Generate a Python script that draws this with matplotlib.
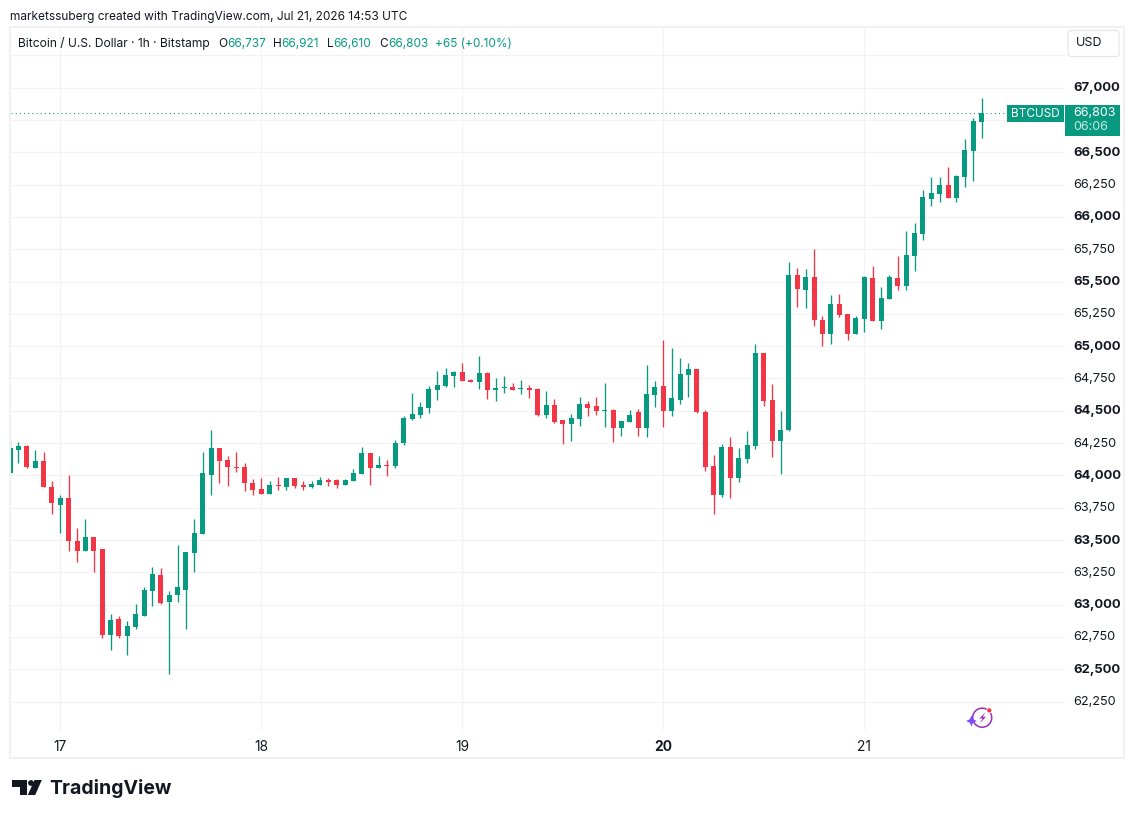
import matplotlib
matplotlib.use("Agg")
import matplotlib.pyplot as plt
from matplotlib.patches import Rectangle, FancyBboxPatch, Polygon, Circle, Arc
from matplotlib.transforms import ScaledTranslation

plt.rcParams['font.family'] = ['Inter', 'DejaVu Sans']

# Hour offsets relative to Jul 17 00:00 UTC
hours = list(range(-6, 111))

opens = [64015,64193,64224,64061,64108,63907,63775,63829,63496,63419,63520,63427,62769,62893,62761,62831,62916,63109,63233,63024,63071,63117,63396,63543,
         64000,64216,64116,64069,64069,63945,63892,63860,63923,63907,63977,63923,63907,63923,63961,63961,63923,63954,64008,64171,64055,64078,64070,64249,
         64435,64466,64521,64661,64692,64770,64801,64738,64723,64793,64661,64676,64684,64668,64676,64668,64466,64544,64428,64397,64435,64552,64536,64498,
         64505,64365,64412,64490,64365,64622,64692,64498,64583,64777,64824,64494,64074,63849,64222,63981,64129,64230,64945,64587,64269,64354,65551,65434,
         65535,65201,65092,65325,65248,65092,65209,65527,65193,65364,65524,65469,65695,65865,66137,66176,66246,66145,66308,66510,66737]
closes = [64216,64224,64069,64108,63907,63783,63829,63489,63419,63520,63419,62769,62885,62761,62838,62924,63117,63241,63016,63078,63133,63404,63551,64015,
          64216,64108,64069,64061,63938,63884,63853,63923,63915,63977,63915,63907,63930,63961,63946,63923,63961,64016,64171,64055,64078,64070,64249,64443,
          64474,64529,64668,64700,64777,64801,64731,64723,64793,64661,64676,64684,64661,64676,64661,64466,64544,64412,64397,64443,64552,64521,64498,64505,
          64365,64420,64466,64365,64630,64684,64498,64599,64785,64824,64490,64067,63849,64222,63981,64136,64237,64945,64579,64269,64354,65551,65442,65535,
          65201,65092,65325,65240,65092,65216,65535,65193,65372,65535,65469,65702,65873,66153,66184,66246,66145,66316,66518,66743,66803]
highs = [64278,64255,64232,64193,64185,63953,63852,64007,63597,63659,63520,63427,62924,62916,62877,63009,63133,63295,63280,63109,63458,63404,63659,64178,
         64348,64216,64154,64185,64100,63976,63977,63954,63985,63977,63977,63954,63954,63985,63977,63969,63969,64047,64218,64171,64148,64117,64272,64459,
         64637,64567,64692,64808,64832,64808,64870,64746,64925,64801,64754,64769,64715,64738,64700,64676,64653,64591,64428,64474,64606,64575,64606,64715,
         64513,64420,64505,64513,64855,64731,65049,64987,64909,64870,64824,64509,64160,64245,64300,64214,64346,65014,64945,64704,64502,65652,65605,65597,
         65752,65232,65395,65403,65248,65232,65543,65620,65457,65551,65695,65889,65951,66207,66308,66308,66386,66324,66604,66767,66921]
lows = [64007,64100,64061,64054,63907,63698,63551,63419,63334,63419,63256,62746,62653,62746,62614,62808,62916,62993,63009,62467,63024,62808,63256,63543,
        63852,63938,63922,64030,63883,63845,63853,63853,63891,63884,63899,63891,63899,63923,63915,63899,63923,63954,64008,63923,64055,63992,64055,64233,
        64428,64443,64482,64583,64684,64684,64731,64723,64668,64591,64575,64637,64661,64630,64599,64459,64443,64404,64241,64264,64381,64459,64466,64373,
        64257,64303,64412,64303,64296,64529,64373,64459,64552,64606,64486,64035,63701,63833,63826,63950,64098,64206,64540,64144,64012,64346,65302,65294,
        65154,64999,65014,65224,65046,65092,65108,65193,65131,65364,65438,65438,65578,65819,66083,66114,66145,66114,66231,66277,66610]

day_ticks = [0, 24, 48, 72, 96]
day_labels = ['17', '18', '19', '20', '21']
price_ticks = [62250,62500,62750,63000,63250,63500,63750,64000,64250,64500,64750,65000,
               65250,65500,65750,66000,66250,66500,66750,67000,67250]
price_labels = ['62,250','62,500','62,750','63,000','63,250','63,500','63,750','64,000','64,250','64,500','64,750','65,000',
                '65,250','65,500','65,750','66,000','66,250','66,500','','67,000','']

GREEN = '#089981'
RED = '#F23645'
INK = '#131722'
GRID = '#F3F3F3'

W, H = 1134, 818
fig = plt.figure(figsize=(W / 100, H / 100), dpi=100, facecolor='white')

# Chart pane placed in pixel terms
L, R, T, B = 10.5, 1064.5, 28, 730
ax = fig.add_axes([L / W, 1 - B / H, (R - L) / W, (B - T) / H])
PX_PER_HOUR = 8.375
X0 = 60.3
ax.set_xlim((L - X0) / PX_PER_HOUR, (R - X0) / PX_PER_HOUR)
PX_PER_USD = 0.12925
Y0 = 669.3
ax.set_ylim(62500 - (B - Y0) / PX_PER_USD, 62500 + (Y0 - T) / PX_PER_USD)

for s in ax.spines.values():
    s.set_visible(False)
ax.set_axisbelow(True)
ax.grid(True, color=GRID, lw=0.85)
ax.set_xticks(day_ticks, day_labels)
ax.set_yticks(price_ticks, price_labels)
ax.yaxis.tick_right()
ax.tick_params(axis='both', length=0, colors=INK)
ax.tick_params(axis='x', pad=7, labelsize=9.9)
ax.tick_params(axis='y', pad=6.2, labelsize=9.1)
shift_up = ScaledTranslation(0, 1.0 / 100, fig.dpi_scale_trans)
for t, p in zip(ax.get_yticklabels(), price_ticks):
    t.set_transform(t.get_transform() + shift_up)
    if p % 500 == 0:
        t.set_fontweight('bold')
        t.set_fontsize(9.4)
for t, d in zip(ax.get_xticklabels(), day_labels):
    if d == '20':
        t.set_fontweight('bold')

colors = [GREEN if c >= o else RED for o, c in zip(opens, closes)]
ax.vlines(hours, lows, highs, colors=colors, lw=0.95, zorder=3)
ax.bar(hours, [abs(c - o) for o, c in zip(opens, closes)],
       bottom=[min(o, c) for o, c in zip(opens, closes)],
       width=5.0 / PX_PER_HOUR, color=colors, lw=0, zorder=4)
ax.axhline(closes[-1], color=GREEN, lw=0.75, ls=(0, (1, 3)), zorder=2)

# Overlay in pixel coordinates for chart furniture
ov = fig.add_axes([0, 0, 1, 1], facecolor='none')
ov.set_xlim(0, W)
ov.set_ylim(H, 0)
ov.axis('off')

ov.add_patch(Rectangle((10, 27), 1114, 731, fill=False, ec='#F1F1F1', lw=1.5))

ov.text(10, 16.7, 'marketssuberg created with TradingView.com, Jul 21, 2026 14:53 UTC',
        fontsize=8.55, color=INK, va='center', ha='left')
ov.text(18, 43.8, 'Bitcoin / U.S. Dollar · 1h · Bitstamp', fontsize=8.65, color=INK, va='center', ha='left')
for x, s, c in [(218, 'O', INK), (227, '66,737', GREEN), (272.7, 'H', INK), (281.7, '66,921', GREEN),
                (327, 'L', INK), (333.5, '66,610', GREEN), (379, 'C', INK), (388, '66,803', GREEN),
                (435, '+65 (+0.10%)', GREEN)]:
    ov.text(x, 43.8, s, fontsize=8.5, color=c, va='center', ha='left')

# Currency button
ov.add_patch(FancyBboxPatch((1068, 30.5), 51, 26, boxstyle='round,pad=0,rounding_size=3',
                            fc='white', ec='#E6E6E6', lw=0.9, zorder=5))
ov.text(1089.5, 43.5, 'USD', fontsize=9, color=INK, va='center', ha='center', zorder=6)

# Last price labels
ov.add_patch(Rectangle((1007, 105), 57, 17, fc=GREEN, ec='none', zorder=5))
ov.text(1035, 113.7, 'BTCUSD', fontsize=8.5, color='white', va='center', ha='center', zorder=6)
ov.add_patch(Rectangle((1065, 105), 55, 31, fc=GREEN, ec='none', zorder=5))
ov.text(1073, 113.5, '66,803', fontsize=9.0, color='white', va='center', ha='left', zorder=6)
ov.text(1073.5, 127, '06:06', fontsize=9.0, color='#C6E8E0', va='center', ha='left', zorder=6)

# TradingView logo
LOGO = '#131722'
ov.add_patch(Polygon([(12.3, 780), (27.3, 780), (27.3, 795), (20, 795), (20, 787), (12.3, 787)], fc=LOGO, ec='none'))
ov.add_patch(Circle((31, 783), 2.9, fc=LOGO, ec='none'))
ov.add_patch(Polygon([(34.5, 780), (41.8, 780), (35.2, 795), (27.8, 795)], fc=LOGO, ec='none'))
ov.text(49, 788, 'TradingView', fontsize=14.0, fontweight='bold', color=LOGO, va='center', ha='left')

# Assistant badge
ov.add_patch(Arc((982.2, 717.7), 19, 19, theta1=0, theta2=360, ec='#9C2DBB', lw=1.1))
ov.add_patch(Polygon([(985.5, 712), (979.5, 718.5), (982.6, 718.5), (979.8, 723.5), (986, 716.8), (982.8, 716.8)],
                     fc='#9C2DBB', ec='none'))
ov.add_patch(Circle((989.3, 710.4), 2.6, fc='#F23645', ec='white', lw=0.6))
ov.add_patch(Polygon([(971.4, 715.6), (973.1, 719.3), (976.8, 721), (973.1, 722.7), (971.4, 726.4),
                      (969.7, 722.7), (966, 721), (969.7, 719.3)], fc='#7B4DFF', ec='none'))

fig.savefig('out.png', dpi=100, facecolor='white')
